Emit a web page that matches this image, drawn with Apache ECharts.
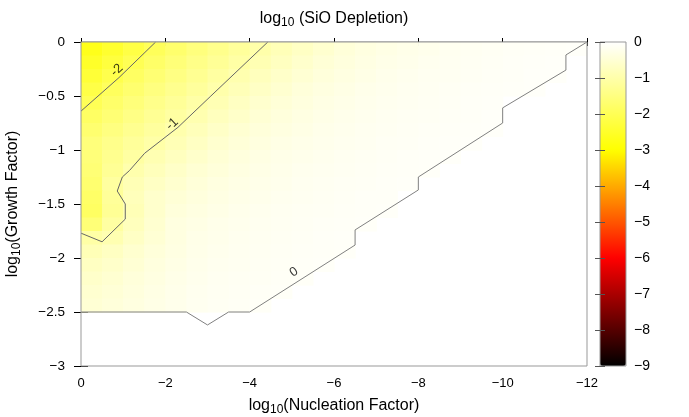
<!DOCTYPE html>
<html lang="en">
<head>
<meta charset="UTF-8">
<title>log10 (SiO Depletion)</title>
<style>html,body{margin:0;padding:0;background:#fff;}</style>
</head>
<body>
<div id="chart" style="width:689px;height:417px;"></div>
<script src="https://cdn.jsdelivr.net/npm/echarts@6/dist/echarts.min.js"></script>
<script>
// cell centres of the map (log10 nucleation factor, log10 growth factor)
const nucleationCells = [-0.25, -0.75, -1.25, -1.75, -2.25, -2.75, -3.25, -3.75, -4.25, -4.75, -5.25, -5.75,
    -6.25, -6.75, -7.25, -7.75, -8.25, -8.75, -9.25, -9.75, -10.25, -10.75, -11.25, -11.75];
const growthCells = [-0.0625, -0.1875, -0.3125, -0.4375, -0.5625, -0.6875, -0.8125, -0.9375, -1.0625, -1.1875,
    -1.3125, -1.4375, -1.5625, -1.6875, -1.8125, -1.9375, -2.0625, -2.1875, -2.3125, -2.4375];

// log10 depletion, one row per growth cell, running from nucleation 0 towards -12 (rows stop at the data edge)
const depletionRows = [
    [-2.69, -2.45, -2.19, -1.94, -1.73, -1.53, -1.35, -1.18, -1.00, -0.84, -0.69, -0.56, -0.45, -0.37, -0.31, -0.26, -0.22, -0.18, -0.15, -0.13, -0.11, -0.09, -0.08, -0.07],
    [-2.52, -2.27, -2.01, -1.79, -1.59, -1.40, -1.23, -1.06, -0.89, -0.74, -0.60, -0.48, -0.40, -0.33, -0.27, -0.23, -0.19, -0.16, -0.14, -0.12, -0.10, -0.085, -0.075],
    [-2.35, -2.09, -1.85, -1.65, -1.46, -1.28, -1.11, -0.94, -0.78, -0.63, -0.52, -0.42, -0.35, -0.29, -0.24, -0.20, -0.17, -0.15, -0.125, -0.105, -0.09, -0.075, -0.07],
    [-2.16, -1.91, -1.71, -1.51, -1.33, -1.16, -0.99, -0.83, -0.68, -0.55, -0.44, -0.36, -0.30, -0.25, -0.21, -0.18, -0.15, -0.13, -0.11, -0.09, -0.08, -0.07],
    [-1.99, -1.77, -1.57, -1.38, -1.21, -1.04, -0.88, -0.72, -0.58, -0.47, -0.39, -0.32, -0.27, -0.22, -0.19, -0.16, -0.14, -0.12, -0.10, -0.085],
    [-1.83, -1.63, -1.44, -1.26, -1.09, -0.93, -0.77, -0.63, -0.51, -0.41, -0.34, -0.28, -0.24, -0.20, -0.17, -0.145, -0.125, -0.105, -0.09, -0.075],
    [-1.69, -1.49, -1.31, -1.14, -0.97, -0.81, -0.66, -0.53, -0.44, -0.36, -0.30, -0.25, -0.21, -0.18, -0.15, -0.13, -0.11, -0.09, -0.08, -0.07],
    [-1.55, -1.36, -1.19, -1.02, -0.86, -0.71, -0.57, -0.46, -0.38, -0.31, -0.26, -0.22, -0.185, -0.16, -0.135, -0.115, -0.095, -0.08, -0.07],
    [-1.58, -1.32, -1.09, -0.91, -0.75, -0.61, -0.49, -0.40, -0.33, -0.275, -0.23, -0.195, -0.165, -0.14, -0.12, -0.10, -0.085, -0.075],
    [-1.62, -1.25, -0.97, -0.80, -0.65, -0.52, -0.43, -0.35, -0.29, -0.245, -0.205, -0.175, -0.15, -0.125, -0.11, -0.09, -0.08],
    [-1.70, -1.12, -0.86, -0.69, -0.56, -0.45, -0.37, -0.31, -0.26, -0.22, -0.18, -0.155, -0.135, -0.115, -0.095, -0.085],
    [-1.80, -1.20, -0.80, -0.60, -0.48, -0.40, -0.33, -0.27, -0.23, -0.19, -0.165, -0.14, -0.12, -0.10, -0.09],
    [-1.85, -1.25, -0.85, -0.60, -0.42, -0.35, -0.29, -0.24, -0.20, -0.17, -0.145, -0.125, -0.105, -0.09, -0.08],
    [-1.60, -1.10, -0.78, -0.55, -0.37, -0.30, -0.25, -0.21, -0.18, -0.15, -0.13, -0.11, -0.095, -0.08],
    [-1.05, -0.92, -0.68, -0.50, -0.36, -0.27, -0.23, -0.19, -0.16, -0.14, -0.12, -0.10, -0.085],
    [-0.85, -0.72, -0.57, -0.44, -0.34, -0.26, -0.21, -0.18, -0.15, -0.13, -0.11, -0.095, -0.08],
    [-0.72, -0.62, -0.50, -0.39, -0.30, -0.24, -0.19, -0.16, -0.14, -0.12, -0.10, -0.085],
    [-0.62, -0.54, -0.44, -0.35, -0.27, -0.21, -0.17, -0.145, -0.125, -0.105, -0.09],
    [-0.55, -0.48, -0.40, -0.32, -0.25, -0.19, -0.155, -0.13, -0.11, -0.095],
    [-0.50, -0.44, -0.37, -0.29, -0.23, -0.18, -0.145, -0.12, -0.10]
];

// contour lines [nucleation, growth]
const contourM2 = [[-1.77, 0], [-0.9, -0.33], [0, -0.64]];
const contourM1 = [[-4.43, 0], [-3.08, -0.5], [-2.3, -0.79], [-1.51, -1.03], [-1.15, -1.19], [-0.98, -1.25],
    [-0.86, -1.38], [-1.05, -1.5], [-1.05, -1.64], [-0.5, -1.85], [0, -1.77]];
const contour0 = [[0, -2.5], [-2.5, -2.5], [-3, -2.62], [-3.5, -2.5], [-4, -2.5], [-6.5, -1.88], [-6.5, -1.74],
    [-8, -1.37], [-8, -1.25], [-10, -0.75], [-10, -0.61], [-11.5, -0.26], [-11.5, -0.12], [-12, 0]];
// label text, nucleation, growth, angle
const contourLabels = [['-2', -0.85, -0.26, 43], ['-1', -2.16, -0.76, 42], ['0', -5.05, -2.13, 32]];

const xTickLabels = ['0', '\u22122', '\u22124', '\u22126', '\u22128', '\u221210', '\u221212'];
const yTickLabels = ['\u22123', '\u22122.5', '\u22122', '\u22121.5', '\u22121', '\u22120.5', '0'];
const cbTickLabels = ['0', '\u22121', '\u22122', '\u22123', '\u22124', '\u22125', '\u22126', '\u22127', '\u22128', '\u22129'];

const cellW = 0.5, cellH = 0.125;
const FONT = 'Liberation Sans, Arial, sans-serif';

let cells = [];
depletionRows.forEach((row, j) => {
    row.forEach((v, i) => {
        cells.push([nucleationCells[i], growthCells[j], v]);
    });
});

let chart = echarts.init(document.getElementById('chart'));

const richName = {
    n: {fontSize: 16, fontFamily: FONT, color: '#000', lineHeight: 20},
    s: {fontSize: 12, fontFamily: FONT, color: '#000', lineHeight: 9, verticalAlign: 'bottom'}
};

let option = {
    animation: false,
    textStyle: {fontFamily: FONT},
    graphic: [{
        type: 'text', x: 334, y: 19, z: 20,
        style: {
            text: '{n|log}{s|10}{n| (SiO Depletion)}',
            align: 'center', verticalAlign: 'middle',
            rich: richName
        }
    }],
    grid: [
        {left: 81, top: 42, width: 506, height: 324, show: true, borderColor: '#999', borderWidth: 1,
            backgroundColor: 'transparent', z: 10, containLabel: false, outerBoundsMode: 'none'},
        {left: 600, top: 42, width: 26, height: 324, show: true, borderColor: '#999', borderWidth: 1,
            backgroundColor: 'transparent', z: 10, containLabel: false, outerBoundsMode: 'none'}
    ],
    xAxis: [
        {
            type: 'value', gridIndex: 0, min: -12, max: 0, interval: 2, inverse: true, position: 'bottom',
            name: '{n|log}{s|10}{n|(Nucleation Factor)}', nameLocation: 'middle', nameGap: 30,
            nameTextStyle: {rich: richName},
            splitLine: {show: false},
            axisLine: {show: true, lineStyle: {color: '#c4c4c4', width: 2}},
            axisTick: {inside: true, length: 4, lineStyle: {color: '#000'}},
            axisLabel: {fontSize: 13, color: '#000', margin: 11, fontFamily: FONT,
                formatter: v => xTickLabels[Math.round(-v / 2)]}
        },
        {
            type: 'value', gridIndex: 0, min: -12, max: 0, interval: 2, inverse: true, position: 'top',
            splitLine: {show: false}, axisLine: {show: false}, axisLabel: {show: false},
            axisTick: {inside: true, length: 4, lineStyle: {color: '#000'}}
        },
        {type: 'value', gridIndex: 1, min: 0, max: 1, show: false}
    ],
    yAxis: [
        {
            type: 'value', gridIndex: 0, min: -3, max: 0, interval: 0.5, position: 'left',
            name: '{n|log}{s|10}{n|(Growth Factor)}', nameLocation: 'middle', nameGap: 58,
            nameTextStyle: {rich: richName},
            splitLine: {show: false}, axisLine: {show: false},
            axisTick: {inside: true, length: 7, lineStyle: {color: '#000'}},
            axisLabel: {fontSize: 13.5, color: '#000', margin: 16, fontFamily: FONT,
                formatter: v => yTickLabels[Math.round((v + 3) * 2)]}
        },
        {
            type: 'value', gridIndex: 0, min: -3, max: 0, interval: 0.5, position: 'right',
            splitLine: {show: false}, axisLine: {show: false}, axisLabel: {show: false},
            axisTick: {inside: true, length: 7, lineStyle: {color: '#000'}}
        },
        {
            type: 'value', gridIndex: 1, min: -9, max: 0, interval: 1, position: 'right', z: 12,
            splitLine: {show: false}, axisLine: {show: false},
            axisTick: {inside: true, length: 5, lineStyle: {color: '#555'}},
            axisLabel: {fontSize: 14, color: '#000', margin: 8, fontFamily: FONT,
                formatter: v => cbTickLabels[Math.round(-v)]}
        },
        {
            type: 'value', gridIndex: 1, min: -9, max: 0, interval: 1, position: 'left', z: 12,
            splitLine: {show: false}, axisLine: {show: false}, axisLabel: {show: false},
            axisTick: {inside: true, length: 5, lineStyle: {color: '#555'}}
        }
    ],
    visualMap: {
        type: 'continuous', min: -9, max: 0, dimension: 2, seriesIndex: 0,
        left: 600, top: 42, itemWidth: 26, itemHeight: 324, padding: 0,
        calculable: false, hoverLink: false, z: 1,
        inRange: {color: ['#000000', '#ff0000', '#ffff00', '#ffffff']}
    },
    series: [
        {
            type: 'custom', xAxisIndex: 0, yAxisIndex: 0, clip: true, silent: true, z: 1,
            encode: {x: 0, y: 1},
            data: cells,
            renderItem: function (params, api) {
                let x = api.value(0), y = api.value(1);
                let a = api.coord([x + cellW / 2, y + cellH / 2]);
                let b = api.coord([x - cellW / 2, y - cellH / 2]);
                return {
                    type: 'rect',
                    shape: {
                        x: Math.min(a[0], b[0]), y: Math.min(a[1], b[1]),
                        width: Math.abs(b[0] - a[0]) + 0.6, height: Math.abs(b[1] - a[1]) + 0.6
                    },
                    style: {fill: api.visual('color')}
                };
            }
        },
        {type: 'line', data: contourM2, showSymbol: false, silent: true, z: 5,
            lineStyle: {color: '#666', width: 1}},
        {type: 'line', data: contourM1, showSymbol: false, silent: true, z: 5,
            lineStyle: {color: '#666', width: 1}},
        {type: 'line', data: contour0, showSymbol: false, silent: true, z: 5,
            lineStyle: {color: '#808080', width: 1}},
        {
            type: 'scatter', silent: true, z: 6, symbolSize: 0,
            data: contourLabels.map(l => ({
                value: [l[1], l[2]],
                label: {show: true, position: 'inside', formatter: l[0], rotate: l[3],
                    fontSize: 13, color: '#000', fontFamily: FONT}
            }))
        }
    ]
};
chart.setOption(option);
</script>
</body>
</html>
